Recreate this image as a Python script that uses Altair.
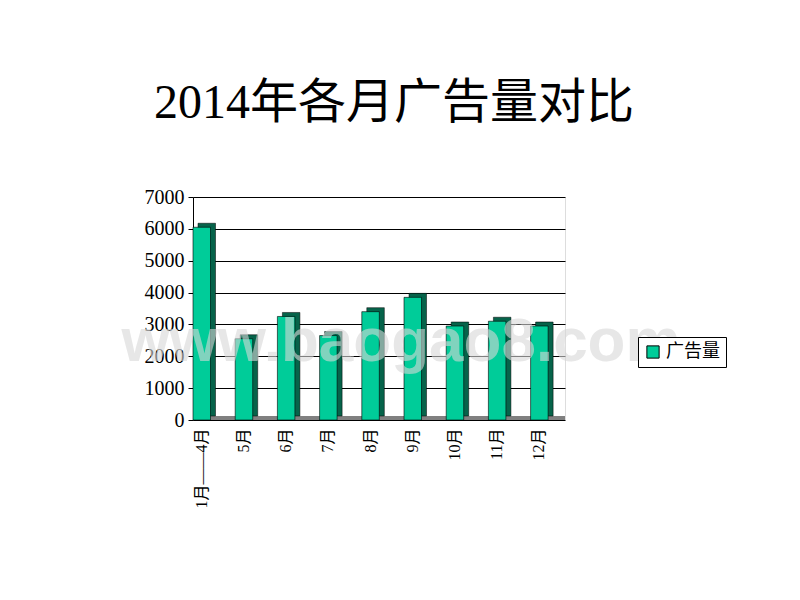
import altair as alt
import pandas as pd

months = ["1月——4月", "5月", "6月", "7月", "8月", "9月", "10月", "11月", "12月"]
values = [6050, 2550, 3250, 2650, 3400, 3850, 2950, 3100, 2950]
series = "广告量"
y_ticks = [0, 1000, 2000, 3000, 4000, 5000, 6000, 7000]
title_text = "2014年各月广告量对比"
watermark = "www.baogao8.com"

df = pd.DataFrame({"month": months, "value": values, "series": [series] * len(months)})

SERIF = "Liberation Serif, Times New Roman, Noto Sans CJK SC"

y_scale = alt.Scale(domain=[0, 7000], nice=False)
y_axis = alt.Axis(title=None, values=y_ticks, format="d", labelFont=SERIF, labelFontSize=20,
                  labelColor="black", tickColor="black", tickSize=5, labelPadding=4,
                  domainColor="black", grid=True, gridColor="black", gridWidth=1, gridOpacity=1)

x_enc = alt.X("month:N", sort=months,
              scale=alt.Scale(paddingInner=0.585, paddingOuter=0.2, align=0),
              axis=alt.Axis(title=None, labelAngle=270, labelFont=SERIF, labelFontSize=16,
                            labelColor="black", domain=False, ticks=False, labelPadding=8))
y_enc = alt.Y("value:Q", scale=y_scale, axis=y_axis)

base = alt.Chart(df)

floor = base.mark_rule(color="#808080", strokeWidth=4, yOffset=-2).encode(
    y=alt.YDatum(0, scale=y_scale, axis=y_axis))

back = base.mark_bar(color="#06634A", xOffset=5, yOffset=-4, stroke="black", strokeWidth=0.5).encode(
    x=x_enc, y=y_enc)

front = base.mark_bar(stroke="black", strokeWidth=0.6).encode(
    x=x_enc, y=y_enc,
    color=alt.Color("series:N", scale=alt.Scale(range=["#00CC99"]),
                    legend=alt.Legend(title=None, orient="none", legendX=445, legendY=140,
                                      symbolType="square", symbolSize=150,
                                      symbolStrokeColor="black", symbolStrokeWidth=1,
                                      labelFont=SERIF, labelFontSize=18, labelColor="black",
                                      strokeColor="black", padding=6, cornerRadius=0,
                                      fillColor="white")))

wm = alt.Chart(pd.DataFrame({"t": [watermark]})).mark_text(
    font="Liberation Sans", fontSize=62, fontWeight="bold", color="#d8d8d8", opacity=0.6,
    align="center").encode(text="t:N", x=alt.value(208), y=alt.value(145))

chart = alt.layer(floor, back, front, wm).properties(
    width=372, height=223,
    autosize=alt.AutoSizeParams(type="none"),
    padding={"left": 185, "top": 189, "right": 227, "bottom": 172},
    title=alt.TitleParams(title_text, font=SERIF, fontSize=48, fontWeight="normal",
                          color="black", anchor="middle", frame="group", dx=15, offset=59),
).configure_view(stroke="black", strokeWidth=1).configure(background="white")

chart.save("out.html", embed_options={"renderer": "svg", "actions": False})
